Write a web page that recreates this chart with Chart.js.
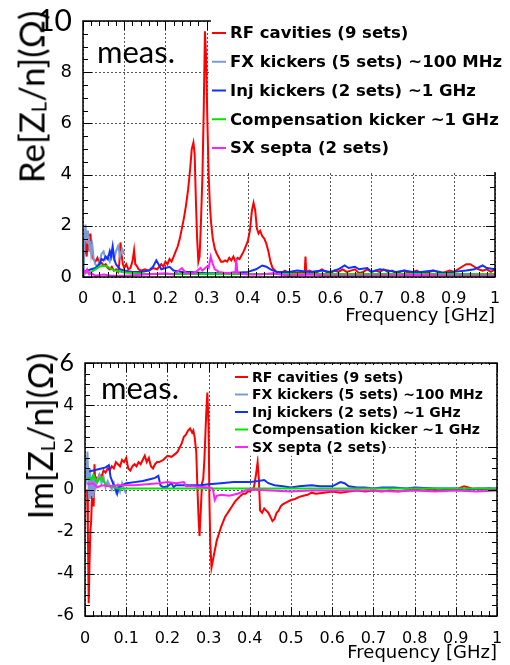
<!DOCTYPE html>
<html><head><meta charset="utf-8">
<script src="https://cdn.jsdelivr.net/npm/chart.js@4.4.1/dist/chart.umd.min.js"></script>
<style>
html,body{margin:0;padding:0;background:#fff;width:510px;height:665px;overflow:hidden;position:relative}
.box{position:absolute;left:0;width:510px;height:332px}
.ytitle{position:absolute;white-space:nowrap;font-family:Lato;color:#000;line-height:1;transform:translate(-50%,-50%) rotate(-90deg);z-index:2}
.ytitle span{font-size:0.58em;position:relative;top:0.08em}
.meas{position:absolute;font-family:Lato;color:#000;line-height:1;z-index:2}
</style></head>
<body>
<div class="box" style="top:0"><canvas id="c1"></canvas></div>
<div class="box" style="top:333px"><canvas id="c2"></canvas></div>
<div class="ytitle" style="left:31px;top:97px;font-size:35px">Re[Z<span>L</span>/n](Ω)</div>
<div class="ytitle" style="left:40px;top:436px;font-size:34px">Im[Z<span>L</span>/n](Ω)</div>
<div class="meas" style="left:97px;top:36px;font-size:31px">meas.</div>
<div class="meas" style="left:101px;top:372px;font-size:31px">meas.</div>
<script>
// ---------- labels ----------
const seriesNames = ['RF cavities (9 sets)','FX kickers (5 sets) ~100 MHz','Inj kickers (2 sets) ~1 GHz','Compensation kicker ~1 GHz','SX septa (2 sets)'];
const xTickLabels = ['0','0.1','0.2','0.3','0.4','0.5','0.6','0.7','0.8','0.9','1'];
const reTickLabels = ['0','2','4','6','8','10'];
const imTickLabels = ['-6','-4','-2','0','2','4','6'];

// ---------- Re[ZL/n] data (frequency GHz, ohm) ----------
const reRfF = [0.003,0.006,0.009,0.012,0.015,0.018,0.021,0.025,0.03,0.035,0.04,0.045,0.05,0.055,0.06,0.065,0.07,0.075,0.08,0.085,0.088,0.091,0.094,0.097,0.1,0.105,0.11,0.115,0.12,0.124,0.127,0.13,0.135,0.14,0.15,0.16,0.17,0.18,0.19,0.195,0.2,0.205,0.21,0.215,0.22,0.225,0.23,0.235,0.24,0.245,0.25,0.255,0.26,0.264,0.268,0.271,0.274,0.277,0.28,0.283,0.286,0.29,0.293,0.296,0.299,0.302,0.305,0.308,0.311,0.315,0.32,0.325,0.33,0.335,0.34,0.345,0.35,0.355,0.36,0.365,0.37,0.375,0.38,0.385,0.39,0.395,0.4,0.405,0.41,0.414,0.418,0.422,0.426,0.43,0.435,0.44,0.445,0.45,0.455,0.46,0.47,0.48,0.49,0.5,0.51,0.52,0.53,0.538,0.54,0.542,0.55,0.56,0.57,0.58,0.59,0.6,0.61,0.62,0.63,0.64,0.65,0.66,0.67,0.68,0.69,0.7,0.71,0.72,0.73,0.74,0.75,0.76,0.77,0.78,0.79,0.8,0.81,0.82,0.83,0.84,0.85,0.86,0.87,0.88,0.89,0.9,0.91,0.92,0.93,0.94,0.95,0.96,0.97,0.98,0.99,1.0];
const reRfV = [0.9,1.2,0.8,1.8,1.0,1.7,0.9,0.7,0.6,0.75,0.5,0.55,0.45,0.5,0.35,0.3,0.4,0.25,0.3,0.2,0.5,1.35,0.8,0.5,0.35,0.5,0.3,0.35,0.6,1.05,0.5,0.45,0.3,0.25,0.3,0.25,0.35,0.3,0.5,0.4,0.6,0.5,0.7,0.6,0.8,1.0,1.2,1.5,1.9,2.3,2.8,3.4,4.2,5.0,5.25,4.8,3.0,1.5,0.6,0.8,2.0,4.0,6.5,9.6,8.5,6.0,4.0,2.8,2.1,1.5,1.1,0.9,0.75,0.6,0.6,0.65,0.6,0.75,0.65,0.8,0.6,0.75,0.7,0.85,1.0,1.2,1.4,1.8,2.6,2.9,2.6,1.9,1.7,1.8,1.6,1.5,1.3,1.0,0.6,0.35,0.2,0.15,0.25,0.15,0.2,0.15,0.2,0.15,0.8,0.2,0.25,0.15,0.2,0.3,0.2,0.15,0.25,0.2,0.3,0.2,0.25,0.3,0.15,0.2,0.3,0.2,0.25,0.2,0.3,0.2,0.25,0.15,0.2,0.25,0.15,0.2,0.25,0.15,0.2,0.2,0.25,0.2,0.15,0.2,0.25,0.2,0.3,0.4,0.5,0.5,0.4,0.3,0.25,0.3,0.2,0.3];
const reFxF = [0,0.002,0.004,0.006,0.008,0.01,0.012,0.014,0.016,0.018,0.02,0.023,0.026,0.03,0.035,0.04,0.045,0.05,0.055,0.06,0.065,0.07,0.075,0.08,0.085,0.09,0.095,0.1];
const reFxV = [0,0.3,1.5,2.05,1.5,1.8,1.3,1.6,1.0,1.4,0.9,1.2,0.7,0.5,0.4,0.6,0.9,1.0,0.7,0.8,0.6,0.9,0.7,1.0,1.2,0.8,1.1,0.9];
const reInjF = [0,0.01,0.02,0.03,0.04,0.045,0.05,0.055,0.06,0.065,0.068,0.072,0.076,0.08,0.085,0.09,0.1,0.12,0.14,0.16,0.17,0.178,0.185,0.19,0.2,0.21,0.22,0.24,0.26,0.3,0.35,0.4,0.42,0.435,0.445,0.455,0.47,0.5,0.52,0.55,0.58,0.6,0.62,0.635,0.645,0.66,0.67,0.69,0.7,0.72,0.74,0.76,0.78,0.8,0.82,0.85,0.88,0.9,0.93,0.95,0.97,0.98,1.0];
const reInjV = [0.2,0.25,0.3,0.35,0.5,0.7,0.65,0.8,0.7,1.0,0.8,1.2,0.7,0.5,0.4,0.3,0.25,0.2,0.2,0.25,0.4,0.65,0.45,0.3,0.35,0.4,0.25,0.2,0.2,0.15,0.15,0.2,0.3,0.45,0.4,0.3,0.2,0.2,0.25,0.2,0.25,0.2,0.3,0.45,0.35,0.4,0.3,0.35,0.2,0.3,0.25,0.2,0.25,0.2,0.2,0.25,0.15,0.2,0.25,0.3,0.45,0.35,0.3];
const reCompF = [0,0.02,0.03,0.04,0.05,0.06,0.07,0.08,0.1,0.15,0.2,0.4,0.6,0.8,1.0];
const reCompV = [0.15,0.2,0.3,0.4,0.45,0.4,0.3,0.25,0.18,0.13,0.12,0.12,0.12,0.12,0.12];
const reSxF = [0,0.005,0.01,0.015,0.02,0.03,0.05,0.07,0.1,0.15,0.2,0.22,0.24,0.25,0.27,0.285,0.29,0.3,0.305,0.31,0.315,0.32,0.33,0.35,0.37,0.372,0.375,0.4,0.43,0.46,0.5,0.55,0.6,0.7,0.8,0.9,1.0];
const reSxV = [0.3,0.15,0.3,0.1,0.15,0.05,0.1,0.05,0.05,0.1,0.15,0.1,0.35,0.15,0.15,0.35,0.25,0.4,0.35,0.8,0.5,0.3,0.2,0.15,0.2,0.7,0.15,0.1,0.1,0.15,0.05,0.1,0.05,0.05,0.08,0.05,0.05];

// ---------- Im[ZL/n] data (frequency GHz, ohm) ----------
const imRfF = [0.005,0.007,0.009,0.011,0.013,0.015,0.017,0.019,0.021,0.023,0.025,0.028,0.03,0.035,0.04,0.045,0.05,0.055,0.06,0.065,0.07,0.075,0.08,0.085,0.09,0.095,0.1,0.105,0.11,0.115,0.12,0.125,0.13,0.135,0.14,0.145,0.15,0.155,0.16,0.165,0.17,0.175,0.18,0.19,0.2,0.21,0.22,0.225,0.23,0.235,0.24,0.245,0.25,0.255,0.26,0.263,0.266,0.27,0.273,0.276,0.278,0.281,0.284,0.287,0.29,0.294,0.297,0.3,0.302,0.304,0.307,0.31,0.315,0.32,0.325,0.33,0.335,0.34,0.345,0.35,0.355,0.36,0.365,0.37,0.375,0.38,0.385,0.39,0.395,0.4,0.405,0.41,0.415,0.419,0.422,0.425,0.43,0.435,0.44,0.445,0.45,0.455,0.46,0.465,0.47,0.475,0.48,0.49,0.5,0.51,0.52,0.53,0.54,0.55,0.56,0.58,0.6,0.62,0.64,0.66,0.68,0.7,0.72,0.74,0.76,0.78,0.8,0.82,0.84,0.86,0.88,0.9,0.92,0.94,0.96,0.98,1.0];
const imRfV = [0,-2,-5.4,-3.5,-2.0,-1.5,-0.3,0.2,-0.8,1.2,0.3,0.5,0.4,0.7,0.6,0.9,0.8,1.0,0.9,1.1,1.0,1.3,1.2,1.1,1.4,1.3,1.5,1.0,0.9,1.1,1.2,1.1,1.3,1.2,1.4,1.6,1.3,1.5,1.1,1.0,1.2,1.3,1.3,1.4,1.6,1.55,1.7,1.8,2.0,2.2,2.5,2.6,2.8,2.9,2.7,2.8,2.5,1.8,0,-1.5,-2.2,-1.0,0.3,0.5,1.5,3.5,4.6,3.0,-0.5,-2.5,-3.7,-3.4,-2.9,-2.4,-2.1,-1.8,-1.55,-1.3,-1.15,-1.0,-0.85,-0.7,-0.55,-0.45,-0.35,-0.25,-0.2,-0.2,-0.1,-0.1,0.0,0.1,0.7,1.3,0.5,-1.0,-1.1,-0.9,-1.0,-1.1,-1.3,-1.5,-1.4,-1.1,-1.0,-0.8,-0.7,-0.6,-0.5,-0.45,-0.35,-0.3,-0.25,-0.15,-0.2,-0.15,-0.1,-0.15,-0.1,-0.05,-0.1,-0.05,-0.1,-0.05,-0.1,-0.05,0,-0.05,0,-0.05,0,0,0.15,0.05,0,0.05,0];
const imFxF = [0,0.003,0.006,0.008,0.01,0.012,0.014,0.016,0.018,0.02,0.023,0.026,0.03,0.035,0.04,0.045,0.05,0.055,0.06,0.065,0.07,0.075,0.08,0.085,0.09,0.095,0.1];
const imFxV = [0,0.5,1.8,0.5,-0.4,1.0,0.2,-0.3,0.6,-0.4,0.4,0.1,0.5,0.7,0.3,0.6,0.1,0.4,0.2,0.0,0.3,-0.1,0.2,-0.1,0.3,0.0,-0.2];
const imInjF = [0.01,0.02,0.03,0.04,0.05,0.058,0.062,0.066,0.07,0.075,0.078,0.082,0.09,0.1,0.12,0.14,0.16,0.17,0.178,0.183,0.19,0.2,0.21,0.215,0.22,0.25,0.28,0.3,0.33,0.36,0.38,0.4,0.42,0.435,0.445,0.46,0.48,0.5,0.52,0.55,0.57,0.6,0.62,0.63,0.64,0.66,0.68,0.7,0.72,0.75,0.78,0.8,0.85,0.9,0.92,0.95,1.0];
const imInjV = [0.85,0.9,0.95,1.0,1.05,1.15,0.6,0.4,0.2,0.0,-0.2,0.1,0.2,0.3,0.35,0.4,0.5,0.55,0.65,0.2,0.1,0.15,0.3,0.1,0.2,0.2,0.2,0.25,0.3,0.35,0.35,0.35,0.4,0.45,0.3,0.2,0.15,0.1,0.15,0.2,0.15,0.15,0.35,0.3,0.15,0.1,0.1,0.05,0.1,0.1,0.05,0.1,0.05,0.05,-0.05,0.05,0.05];
const imCompF = [0.005,0.01,0.015,0.02,0.025,0.03,0.035,0.04,0.045,0.05,0.06,0.07,0.08,0.1,0.3,0.6,1.0];
const imCompV = [0.5,0.55,0.45,0.7,0.5,0.35,0.5,0.6,0.4,0.25,0.15,0.1,0.05,0.05,0.05,0.05,0.05];
const imSxF = [0.005,0.01,0.02,0.03,0.04,0.06,0.08,0.1,0.12,0.15,0.18,0.2,0.22,0.24,0.245,0.26,0.3,0.31,0.315,0.32,0.33,0.35,0.37,0.39,0.4,0.45,0.5,0.55,0.6,0.7,0.75,0.8,0.85,0.9,0.95,1.0];
const imSxV = [0.3,0.25,0.3,0.1,0.2,0.15,0.2,0.2,0.2,0.25,0.3,0.35,0.3,0.35,0.15,0.15,0.1,0.05,-0.5,-0.3,-0.25,-0.3,-0.2,-0.05,0,-0.05,-0.1,-0.05,-0.05,-0.05,-0.1,-0.05,-0.1,-0.05,-0.1,-0.05];

// ---------- styling ----------
const seriesColors = ['#ff0000','#7b9bd6','#1030ff','#00e400','#ff22ff'];
const pts = (f, v) => f.map((x, i) => ({x, y: v[i]}));

function datasets(list) {
  return list.map((d, i) => ({
    label: seriesNames[i], data: pts(d[0], d[1]),
    borderColor: seriesColors[i], backgroundColor: seriesColors[i],
    borderWidth: 2, pointRadius: 0, tension: 0, fill: false, order: 5 - i
  }));
}

// dotted grid at the major ticks, drawn through the library's scales
const dottedGrid = {
  id: 'dottedGrid',
  beforeDatasetsDraw(chart) {
    const {ctx, chartArea: a, scales: {x, y}} = chart;
    ctx.save();
    ctx.strokeStyle = '#555555';
    ctx.lineWidth = 1;
    ctx.setLineDash([2, 2]);
    x.ticks.forEach(t => {
      const px = Math.round(x.getPixelForValue(t.value)) + 0.5;
      ctx.beginPath(); ctx.moveTo(px, a.top); ctx.lineTo(px, a.bottom); ctx.stroke();
    });
    y.ticks.forEach(t => {
      const py = Math.round(y.getPixelForValue(t.value)) + 0.5;
      ctx.beginPath(); ctx.moveTo(a.left, py); ctx.lineTo(a.right, py); ctx.stroke();
    });
    ctx.restore();
  }
};

const frameTicks = {
  id: 'frameTicks',
  afterDatasetsDraw(chart, args, o) {
    const {ctx, chartArea: a, scales: {x, y}} = chart;
    ctx.save();
    ctx.strokeStyle = '#000';
    ctx.lineWidth = 1;
    const seg = (x1, y1, x2, y2) => { ctx.beginPath(); ctx.moveTo(x1, y1); ctx.lineTo(x2, y2); ctx.stroke(); };
    const nx = Math.round((x.max - x.min) / o.xMinor);
    for (let k = 0; k <= nx; k++) {
      const px = Math.round(x.getPixelForValue(x.min + k * o.xMinor)) + 0.5;
      const L = (k % o.xPer === 0) ? o.major : o.minor;
      seg(px, a.bottom, px, a.bottom - L);
      seg(px, a.top, px, a.top + L);
    }
    const ny = Math.round((y.max - y.min) / o.yMinor);
    for (let k = 0; k <= ny; k++) {
      const py = Math.round(y.getPixelForValue(y.min + k * o.yMinor)) + 0.5;
      const L = (k % o.yPer === 0) ? o.major : o.minor;
      seg(a.left, py, a.left + L, py);
      seg(a.right, py, a.right - L, py);
    }
    ctx.lineWidth = 1.5;
    ctx.strokeRect(a.left, a.top, a.right - a.left, a.bottom - a.top);
    ctx.restore();
  }
};

const boxLegend = {
  id: 'boxLegend',
  afterDraw(chart, args, o) {
    const {ctx} = chart;
    ctx.save();
    ctx.fillStyle = '#fff';
    ctx.fillRect(o.x0, o.y0, o.x1 - o.x0, o.y1 - o.y0);
    ctx.font = o.font;
    ctx.textBaseline = 'middle';
    chart.data.datasets.forEach((ds, i) => {
      const yy = o.rowY + i * o.rowH;
      const w = ctx.measureText(ds.label).width;
      if (yy > o.y1) { ctx.fillStyle = '#fff'; ctx.fillRect(o.x0, yy - o.rowH / 2, o.textX - o.x0 + w + 2, o.rowH); }
      ctx.strokeStyle = ds.borderColor; ctx.lineWidth = 2;
      ctx.beginPath(); ctx.moveTo(o.mx0, yy); ctx.lineTo(o.mx1, yy); ctx.stroke();
      ctx.fillStyle = '#000';
      ctx.fillText(ds.label, o.textX, yy + 1);
    });
    ctx.restore();
  }
};

function makeChart(id, data, cfg) {
  return new Chart(document.getElementById(id), {
    type: 'line',
    data: {datasets: datasets(data)},
    plugins: [dottedGrid, frameTicks, boxLegend],
    options: {
      responsive: true, maintainAspectRatio: false, animation: false,
      layout: {padding: {left: 0, right: cfg.padRight, top: cfg.padTop, bottom: 0}},
      plugins: {legend: {display: false}, tooltip: {enabled: false},
        frameTicks: {xMinor: 0.02, xPer: 5, yMinor: 0.5, yPer: 4, major: 9, minor: 5},
        boxLegend: cfg.legend},
      scales: {
        x: {
          type: 'linear', min: 0, max: 1,
          afterFit: s => { s.height = cfg.xHeight; },
          ticks: {stepSize: 0.1, autoSkip: false, maxRotation: 0, padding: cfg.xPad, color: '#000',
            font: {family: 'DejaVu Sans', size: 16}, callback: (v, i) => xTickLabels[i]},
          grid: {display: false},
          border: {display: false},
          title: {display: true, text: 'Frequency [GHz]', align: 'end', color: '#000',
            font: {family: 'DejaVu Sans', size: 18}, padding: {top: 0, bottom: cfg.titlePad}}
        },
        y: {
          min: cfg.yMin, max: cfg.yMax,
          afterFit: s => { s.width = cfg.yWidth; },
          ticks: {stepSize: 2, autoSkip: false, padding: 3, color: '#000',
            font: c => (c.tick && c.tick.value === cfg.yMax) ? {family: 'Lato', size: cfg.bigSize} : {family: 'DejaVu Sans', size: cfg.ySize},
            callback: (v, i) => cfg.yLabels[i]},
          grid: {display: false},
          border: {display: false}
        }
      }
    }
  });
}

makeChart('c1',
  [[reRfF, reRfV], [reFxF, reFxV], [reInjF, reInjV], [reCompF, reCompV], [reSxF, reSxV]],
  {padRight: 15, padTop: 20, xHeight: 55, xPad: 4, titlePad: 5, yWidth: 83, yMin: 0, yMax: 10,
   yLabels: reTickLabels, bigSize: 30, ySize: 18,
   legend: {x0: 211, y0: 15, x1: 510, y1: 172, rowY: 33, rowH: 28.75, mx0: 212, mx1: 226, textX: 230,
     font: 'bold 16.5px "DejaVu Sans"'}});

makeChart('c2',
  [[imRfF, imRfV], [imFxF, imFxV], [imInjF, imInjV], [imCompF, imCompV], [imSxF, imSxV]],
  {padRight: 13, padTop: 30, xHeight: 49, xPad: 5, titlePad: 1, yWidth: 85, yMin: -6, yMax: 6,
   yLabels: imTickLabels, bigSize: 25, ySize: 17,
   legend: {x0: 232, y0: 32, x1: 496, y1: 106, rowY: 44, rowH: 17.5, mx0: 235, mx1: 248, textX: 252,
     font: 'bold 14px "DejaVu Sans"'}});
</script>
</body></html>
